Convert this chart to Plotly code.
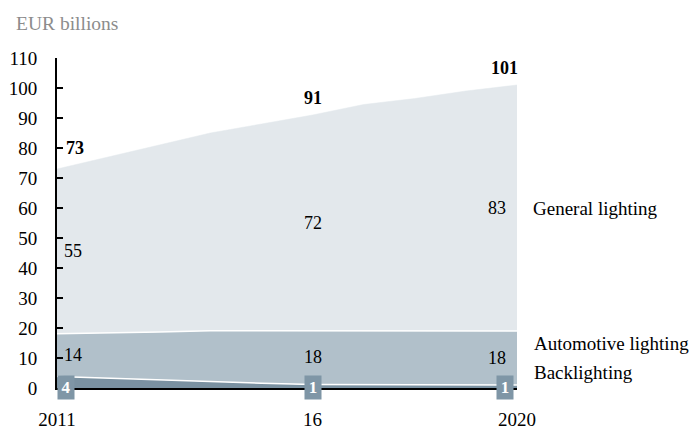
import plotly.graph_objects as go

years = [2011, 2012, 2013, 2014, 2015, 2016, 2017, 2018, 2019, 2020]
backlighting = [3.8, 3.2, 2.7, 2.1, 1.6, 1.2, 1.1, 1.0, 1.0, 1.0]
automotive = [14.3, 15.1, 16.0, 17.0, 17.5, 18.0, 18.0, 18.0, 18.0, 18.0]
general = [54.9, 58.7, 62.3, 65.9, 68.9, 71.8, 75.4, 77.5, 80.0, 82.0]

label_years = [2011, 2016, 2020]
total_labels = [73, 91, 101]
general_labels = [55, 72, 83]
automotive_labels = [14, 18, 18]
backlighting_labels = [4, 1, 1]
tick_text = ["2011", "16", "2020"]
y_ticks = [0, 10, 20, 30, 40, 50, 60, 70, 80, 90, 100, 110]

FONT = "Liberation Serif"
C_GEN = "#e3e8ec"
C_AUTO = "#b1c0ca"
C_BACK = "#7a91a1"
C_BOX = "#7f96a6"

fig = go.Figure()
fig.add_trace(go.Scatter(x=years, y=backlighting, stackgroup="s", mode="lines",
                         line=dict(color="white", width=1.5), fillcolor=C_BACK))
fig.add_trace(go.Scatter(x=years, y=automotive, stackgroup="s", mode="lines",
                         line=dict(color="white", width=1.5), fillcolor=C_AUTO))
fig.add_trace(go.Scatter(x=years, y=general, stackgroup="s", mode="lines",
                         line=dict(color=C_GEN, width=0.5), fillcolor=C_GEN))

idx = {y: i for i, y in enumerate(years)}
anchors = {2011: ("left", 5), 2016: ("center", 0), 2020: ("right", -9)}

ann = []
for k, yr in enumerate(label_years):
    i = idx[yr]
    b, a, g = backlighting[i], automotive[i], general[i]
    tot = b + a + g
    xa, xs = anchors[yr]
    txa, txs = (("left", 7) if yr == 2011 else ("center", 0) if yr == 2016 else ("center", -13))
    ann.append(dict(x=yr, y=tot, text=f"<b>{total_labels[k]}</b>", showarrow=False,
                    xanchor=txa, xshift=txs, yshift=17 if yr != 2011 else 21,
                    font=dict(size=18, color="black", family=FONT)))
    ann.append(dict(x=yr, y=b + a + g / 2, text=str(general_labels[k]), showarrow=False,
                    xanchor=xa, xshift=xs, font=dict(size=18, color="black", family=FONT)))
    ann.append(dict(x=yr, y=b + a / 2, text=str(automotive_labels[k]), showarrow=False,
                    xanchor=xa, xshift=xs, font=dict(size=18, color="black", family=FONT)))
    bx = {2011: 9, 2016: 0, 2020: -12}[yr]
    ann.append(dict(x=yr, y=0, text=f"<b>{backlighting_labels[k]}</b>", showarrow=False,
                    xanchor="center", xshift=bx, yshift=1, bgcolor=C_BOX,
                    width=16, height=23, borderpad=0,
                    font=dict(size=17, color="white", family=FONT)))

ann.append(dict(x=2020, y=60, text="General lighting", showarrow=False, xanchor="left",
                xshift=14, font=dict(size=19, color="black", family=FONT)))
ann.append(dict(x=2020, y=14.7, text="Automotive lighting", showarrow=False, xanchor="left",
                xshift=15, font=dict(size=19, color="black", family=FONT)))
ann.append(dict(x=2020, y=5.2, text="Backlighting", showarrow=False, xanchor="left",
                xshift=15, font=dict(size=19, color="black", family=FONT)))
ann.append(dict(xref="paper", yref="paper", x=-43 / 460, y=1 + 35 / 330, text="EUR billions",
                showarrow=False, xanchor="left", yanchor="middle",
                font=dict(size=19.5, color="#8c8c8c", family=FONT)))

fig.update_layout(
    width=690, height=430,
    margin=dict(l=57, r=173, t=58, b=42, autoexpand=False),
    paper_bgcolor="white", plot_bgcolor="white",
    showlegend=False,
    annotations=ann,
    shapes=[dict(type="line", xref="x", yref="y", xsizemode="pixel", ysizemode="pixel",
                 xanchor=2020, yanchor=0, x0=4, x1=13, y0=-8, y1=18,
                 line=dict(color="black", width=1))],
    font=dict(family=FONT, size=18, color="black"),
)
fig.update_xaxes(range=[2011, 2020], tickvals=label_years, ticktext=tick_text,
                 showline=True, linecolor="black", linewidth=2, showgrid=False,
                 zeroline=False, ticks="", ticklabelstandoff=13, automargin=False,
                 tickfont=dict(size=19, family=FONT, color="black"))
fig.update_yaxes(range=[0, 110], tickvals=y_ticks, showline=True, linecolor="black",
                 linewidth=2, showgrid=False, zeroline=False, ticks="inside",
                 ticklen=6, tickwidth=2, tickcolor="black", ticklabelstandoff=14,
                 automargin=False,
                 tickfont=dict(size=19, family=FONT, color="black"))

fig.write_html("out.html")
